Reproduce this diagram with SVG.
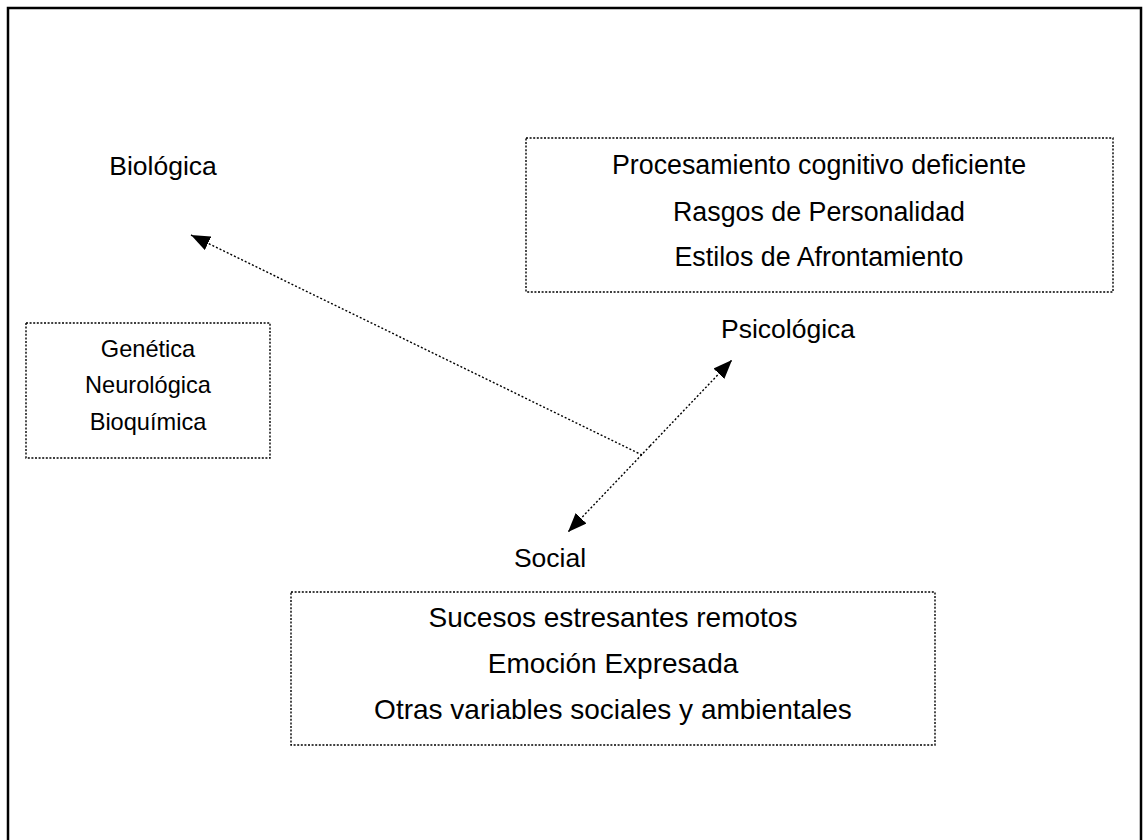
<svg xmlns="http://www.w3.org/2000/svg" width="1145" height="840" viewBox="0 0 1145 840">
  <style>
    .frame { fill: none; stroke: #000; stroke-width: 2.5; }
    .box { fill: none; stroke: #000; stroke-width: 1.4; stroke-dasharray: 2 1.6; }
    .link { fill: none; stroke: #000; stroke-width: 1.4; stroke-dasharray: 2 2; }
    text { font-family: "Liberation Sans", Arial, sans-serif; fill: #000; text-anchor: middle; }
    .label { font-size: 26.5px; }
    .psy { font-size: 26.8px; }
    .soc { font-size: 28px; }
    .small { font-size: 23.6px; }
  </style>
  <defs>
    <marker id="head" viewBox="0 0 19 15" refX="19" refY="7.5" markerWidth="19" markerHeight="15" markerUnits="userSpaceOnUse" orient="auto">
      <path d="M0,0 L19,7.5 L0,15 Z" fill="#000"/>
    </marker>
  </defs>

  <rect class="frame" x="8" y="8" width="1133" height="850"/>

  <g id="biologica-label">
    <text class="label" x="163" y="175">Biológica</text>
  </g>

  <g id="biologica-box">
    <rect class="box" x="26" y="323" width="244" height="135"/>
    <text class="small" x="148" y="357">Genética</text>
    <text class="small" x="148" y="393">Neurológica</text>
    <text class="small" x="148" y="430">Bioquímica</text>
  </g>

  <g id="psicologica-box">
    <rect class="box" x="526" y="138" width="587" height="154"/>
    <text class="psy" x="819" y="174">Procesamiento cognitivo deficiente</text>
    <text class="psy" x="819" y="221">Rasgos de Personalidad</text>
    <text class="psy" x="819" y="266">Estilos de Afrontamiento</text>
  </g>

  <g id="psicologica-label">
    <text class="label" x="788" y="338">Psicológica</text>
  </g>

  <g id="social-label">
    <text class="label" x="550" y="567">Social</text>
  </g>

  <g id="social-box">
    <rect class="box" x="291" y="592" width="644" height="153"/>
    <text class="soc" x="613" y="627">Sucesos estresantes remotos</text>
    <text class="soc" x="613" y="673">Emoción Expresada</text>
    <text class="soc" x="613" y="719">Otras variables sociales y ambientales</text>
  </g>

  <g id="connectors">
    <line class="link" x1="642" y1="455" x2="191" y2="235" marker-end="url(#head)"/>
    <line class="link" x1="650" y1="446" x2="732" y2="360" marker-end="url(#head)"/>
    <line class="link" x1="650" y1="446" x2="568" y2="532" marker-end="url(#head)"/>
  </g>
</svg>
